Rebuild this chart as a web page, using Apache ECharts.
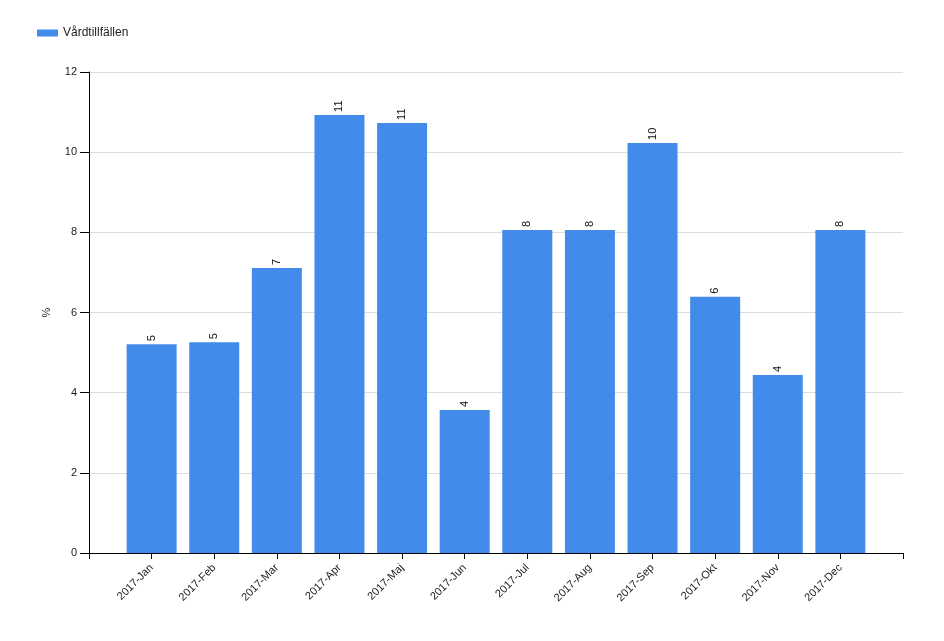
<!DOCTYPE html>
<html>
<head>
<meta charset="utf-8">
<script src="https://cdn.jsdelivr.net/npm/echarts@6/dist/echarts.min.js"></script>
<style>html,body{margin:0;padding:0;background:#fff}#c{width:944px;height:641px}</style>
</head>
<body>
<div id="c"></div>
<script>
var categories = ['2017-Jan','2017-Feb','2017-Mar','2017-Apr','2017-Maj','2017-Jun','2017-Jul','2017-Aug','2017-Sep','2017-Okt','2017-Nov','2017-Dec'];
var values = [5.21, 5.26, 7.11, 10.93, 10.73, 3.57, 8.06, 8.06, 10.23, 6.39, 4.44, 8.06];
var seriesName = 'Vårdtillfällen';
var yTicks = [0, 2, 4, 6, 8, 10, 12];

// pad with empty slots at both ends so the axis spans one extra step each side
var axisCats = [''].concat(categories).concat(['']);
var axisData = [null].concat(values).concat([null]);

var chart = echarts.init(document.getElementById('c'), null, {renderer: 'canvas'});
chart.setOption({
  animation: false,
  textStyle: {fontFamily: 'Liberation Sans, Arial, sans-serif'},
  legend: {
    left: 32, top: 22,
    itemWidth: 21, itemHeight: 7, itemGap: 10,
    icon: 'rect',
    textStyle: {fontSize: 12, color: '#222', fontFamily: 'Liberation Sans, Arial, sans-serif'},
    data: [seriesName]
  },
  grid: {left: 89, right: 41, top: 72, bottom: 88, containLabel: false},
  xAxis: {
    type: 'category',
    data: axisCats,
    boundaryGap: false,
    axisLine: {lineStyle: {color: '#000', width: 1}},
    axisTick: {length: 6, lineStyle: {color: '#000'}, interval: 0},
    axisLabel: {
      interval: 0, rotate: 45, fontSize: 11, color: '#222', margin: 13,
      fontFamily: 'Liberation Sans, Arial, sans-serif'
    },
    splitLine: {show: false}
  },
  yAxis: {
    type: 'value',
    min: yTicks[0], max: yTicks[yTicks.length - 1], interval: 2,
    name: '%', nameLocation: 'middle', nameGap: 37, nameRotate: 90,
    nameTextStyle: {fontSize: 11, color: '#222'},
    axisLine: {show: true, lineStyle: {color: '#000', width: 1}},
    axisTick: {show: true, length: 9, lineStyle: {color: '#000'}},
    axisLabel: {fontSize: 11, color: '#222', margin: 12},
    splitLine: {show: true, lineStyle: {color: '#dddddd', width: 1}}
  },
  series: [{
    name: seriesName,
    type: 'bar',
    data: axisData,
    barWidth: 50,
    itemStyle: {color: '#428bea'},
    label: {
      show: true, position: 'top', rotate: 90, distance: 3,
      align: 'left', verticalAlign: 'middle',
      fontSize: 11, color: '#111',
      formatter: function (p) { return Math.round(p.value); }
    }
  }]
});
</script>
</body>
</html>
